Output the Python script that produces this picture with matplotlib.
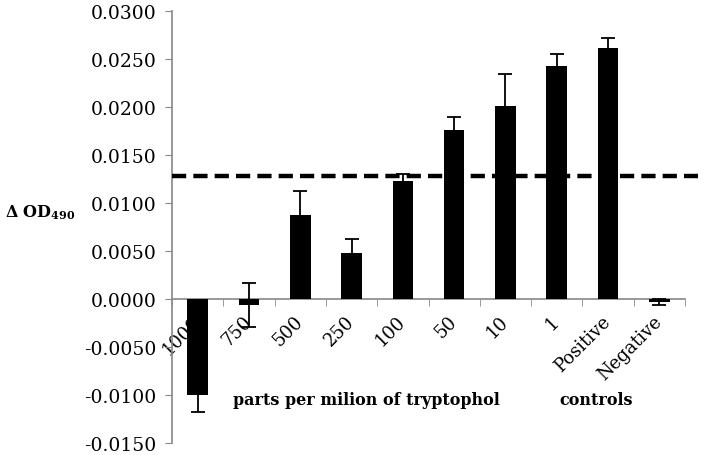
import numpy as np
import matplotlib
matplotlib.use('Agg')
import matplotlib.pyplot as plt

# data
categories = ['1000', '750', '500', '250', '100', '50', '10', '1', 'Positive', 'Negative']
values = [-0.0100, -0.0006, 0.0087, 0.0048, 0.0123, 0.0176, 0.0201, 0.0243, 0.0261, -0.0003]
errors = [0.0018, 0.0023, 0.0025, 0.0014, 0.0007, 0.0014, 0.0033, 0.0012, 0.0011, 0.0003]
threshold = 0.0128
yticks = np.arange(-0.015, 0.0301, 0.005)

plt.rcParams['font.family'] = 'DejaVu Serif'
plt.rcParams['mathtext.fontset'] = 'dejavuserif'

fig = plt.figure(figsize=(7.08, 4.56), dpi=100)
ax = fig.add_axes([0.243, 0.026, 0.7245, 0.948])

# move the x axis to y=0 first (this resets the ticks)
ax.spines['bottom'].set_position(('data', 0))
for s in ['top', 'right']:
    ax.spines[s].set_visible(False)
for s in ['left', 'bottom']:
    ax.spines[s].set_color('#888888')
    ax.spines[s].set_linewidth(1.2)

x = np.arange(len(categories))
ax.bar(x, values, width=0.4, color='black', zorder=3)
ax.errorbar(x, values, yerr=errors, fmt='none', ecolor='black',
            elinewidth=1.3, capsize=5, capthick=1.3, zorder=4)

# dashed threshold line, runs a bit past the end of the axis
ax.plot([-0.5, 9.75], [threshold, threshold], color='black', lw=3.2,
        ls=(0, (3.2, 1.6)), clip_on=False, zorder=5)

ax.set_xlim(-0.5, 9.5)
ax.set_ylim(-0.015, 0.030)
ax.set_yticks(yticks)
ax.set_yticklabels(['%.4f' % v for v in yticks], fontsize=13.5)

ax.set_xticks(x)
ax.set_xticklabels(categories, fontsize=13, rotation=45, ha='right',
                   va='center', rotation_mode='anchor')
ax.set_xticks(np.arange(-0.5, 10, 1), minor=True)
ax.tick_params(axis='x', which='major', length=0, pad=14)
ax.tick_params(axis='x', which='minor', length=5, color='#888888', direction='out')
ax.tick_params(axis='y', length=5, color='#888888', direction='out', pad=6)
# bars are drawn over the tick labels, as in the reference
ax.xaxis.set_zorder(1)

ax.text(3.28, -0.0105, 'parts per milion of tryptophol', fontsize=11.5,
        fontweight='bold', ha='center', va='center')
ax.text(7.77, -0.0105, 'controls', fontsize=11.5, fontweight='bold',
        ha='center', va='center')

fig.text(0.007, 0.533, r'$\mathbf{\Delta\ OD_{490}}$', fontsize=11.5,
         ha='left', va='center')

fig.savefig('out.png', dpi=100)
